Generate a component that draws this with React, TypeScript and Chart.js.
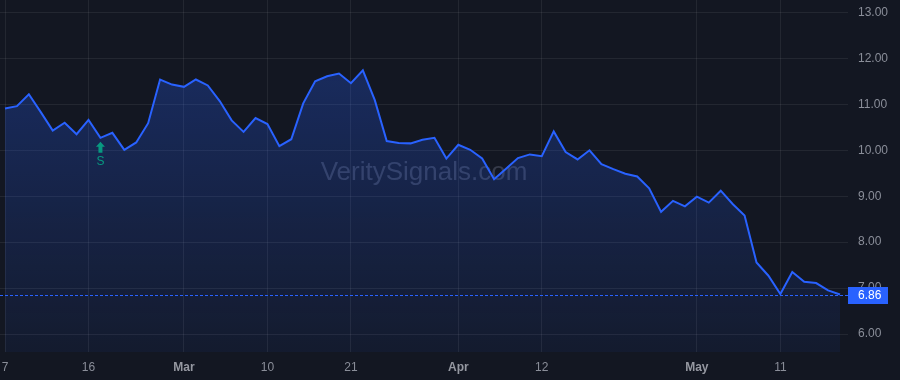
import { useEffect, useRef } from "react";
import { Chart, registerables } from "chart.js";

Chart.register(...registerables);

const prices = [
  10.91, 10.96, 11.22, 10.83, 10.43, 10.6, 10.35, 10.66, 10.27, 10.38,
  10.01, 10.17, 10.59, 11.54, 11.43, 11.38, 11.54, 11.41, 11.07, 10.65,
  10.4, 10.7, 10.57, 10.09, 10.24, 11.02, 11.5, 11.61, 11.67, 11.46,
  11.74, 11.09, 10.2, 10.16, 10.15, 10.23, 10.27, 9.82, 10.12, 10.01,
  9.82, 9.37, 9.6, 9.83, 9.91, 9.87, 10.41, 9.96, 9.8, 10.0,
  9.7, 9.59, 9.49, 9.43, 9.17, 8.66, 8.9, 8.78, 8.99, 8.86,
  9.12, 8.83, 8.58, 7.56, 7.27, 6.87, 7.35, 7.14, 7.11, 6.95,
  6.86,
];
const tickIndices = [0, 7, 15, 22, 29, 38, 45, 58, 65];
const tickLabels = ["7", "16", "Mar", "10", "21", "Apr", "12", "May", "11"];
const monthLabels = ["Mar", "Apr", "May"];
const yTicks = [6, 7, 8, 9, 10, 11, 12, 13];
const signalIndex = 8;
const signalLabel = "S";
const watermark = "VeritySignals.com";

const FONT = "'Liberation Sans', Arial, sans-serif";

export default function App() {
  const ref = useRef<HTMLCanvasElement | null>(null);

  useEffect(() => {
    document.body.style.margin = "0";
    document.body.style.background = "#131722";
    const canvas = ref.current!;
    const lastPrice = prices[prices.length - 1];

    const overlay = {
      id: "overlay",
      beforeDatasetsDraw(chart: any) {
        const { ctx, chartArea } = chart;
        ctx.save();
        ctx.fillStyle = "rgba(150,158,185,0.27)";
        ctx.font = `26px ${FONT}`;
        ctx.textAlign = "center";
        ctx.textBaseline = "middle";
        ctx.fillText(watermark, (chartArea.left + chartArea.right) / 2, 173);
        ctx.restore();
      },
      afterDatasetsDraw(chart: any) {
        const { ctx, chartArea, scales } = chart;
        const yS = scales.y;
        const xS = scales.x;
        ctx.save();
        // last price dashed line
        const ly = Math.round(yS.getPixelForValue(lastPrice)) + 0.5;
        ctx.strokeStyle = "#2962ff";
        ctx.lineWidth = 1;
        ctx.setLineDash([3, 2]);
        ctx.beginPath();
        ctx.moveTo(chartArea.left, ly);
        ctx.lineTo(chartArea.right, ly);
        ctx.stroke();
        ctx.setLineDash([]);
        // price box
        ctx.fillStyle = "#2962ff";
        ctx.fillRect(chartArea.right, ly - 8.5, 40, 17);
        ctx.fillStyle = "#ffffff";
        ctx.font = `12px ${FONT}`;
        ctx.textAlign = "left";
        ctx.textBaseline = "middle";
        ctx.fillText(lastPrice.toFixed(2), chartArea.right + 10, ly + 0.5);
        // signal marker
        const sx = xS.getPixelForValue(signalIndex);
        const sy = yS.getPixelForValue(prices[signalIndex]);
        const top = sy + 4;
        ctx.fillStyle = "#089981";
        ctx.beginPath();
        ctx.moveTo(sx, top);
        ctx.lineTo(sx + 4.5, top + 5);
        ctx.lineTo(sx + 2, top + 5);
        ctx.lineTo(sx + 2, top + 11);
        ctx.lineTo(sx - 2, top + 11);
        ctx.lineTo(sx - 2, top + 5);
        ctx.lineTo(sx - 4.5, top + 5);
        ctx.closePath();
        ctx.fill();
        ctx.font = `12px ${FONT}`;
        ctx.textAlign = "center";
        ctx.fillText(signalLabel, sx, top + 20);
        ctx.restore();
      },
    };

    const chart = new Chart(canvas, {
      type: "line",
      data: {
        datasets: [
          {
            data: prices.map((p, i) => ({ x: i, y: p })),
            borderColor: "#2962ff",
            borderWidth: 2,
            pointRadius: 0,
            tension: 0,
            fill: "start",
            backgroundColor: (c: any) => {
              const { ctx, chartArea } = c.chart;
              if (!chartArea) return "rgba(41,98,255,0.2)";
              const g = ctx.createLinearGradient(0, chartArea.top, 0, chartArea.bottom);
              g.addColorStop(0, "rgba(41,98,255,0.32)");
              g.addColorStop(1, "rgba(41,98,255,0.06)");
              return g;
            },
          },
        ],
      },
      options: {
        animation: false,
        responsive: false,
        maintainAspectRatio: false,
        layout: { padding: 0 },
        plugins: { legend: { display: false }, tooltip: { enabled: false } },
        scales: {
          x: {
            type: "linear",
            min: -0.42,
            max: 70.67,
            afterBuildTicks: (s: any) => {
              s.ticks = tickIndices.map((v) => ({ value: v }));
            },
            afterFit: (s: any) => {
              s.height = 28;
              s.paddingLeft = 0;
              s.paddingRight = 0;
              s.paddingTop = 0;
              s.paddingBottom = 0;
            },
            ticks: {
              autoSkip: false,
              maxRotation: 0,
              padding: 8,
              color: (c: any) =>
                monthLabels.includes(tickLabels[tickIndices.indexOf(c.tick?.value)]) ? "#9598a1" : "#8a8e99",
              font: (c: any) => ({
                family: FONT,
                size: 12,
                weight: monthLabels.includes(tickLabels[tickIndices.indexOf(c.tick?.value)]) ? "bold" : "normal",
              }),
              callback: (v: any) => tickLabels[tickIndices.indexOf(v)] ?? "",
            },
            grid: { color: "rgba(255,255,255,0.07)", drawTicks: false },
            border: { display: false },
          },
          y: {
            position: "right",
            min: 5.61,
            max: 13.27,
            afterBuildTicks: (s: any) => {
              s.ticks = yTicks.map((v) => ({ value: v }));
            },
            afterFit: (s: any) => {
              s.width = 52;
              s.paddingLeft = 0;
              s.paddingRight = 0;
              s.paddingTop = 0;
              s.paddingBottom = 0;
            },
            ticks: {
              padding: 10,
              color: "#8a8e99",
              font: { family: FONT, size: 12 },
              callback: (v: any) => Number(v).toFixed(2),
            },
            grid: { color: "rgba(255,255,255,0.07)", drawTicks: false },
            border: { display: false },
          },
        },
      },
      plugins: [overlay],
    } as any);

    return () => chart.destroy();
  }, []);

  return (
    <div style={{ width: 900, height: 380, background: "#131722" }}>
      <canvas ref={ref} width={900} height={380} style={{ display: "block" }} />
    </div>
  );
}
